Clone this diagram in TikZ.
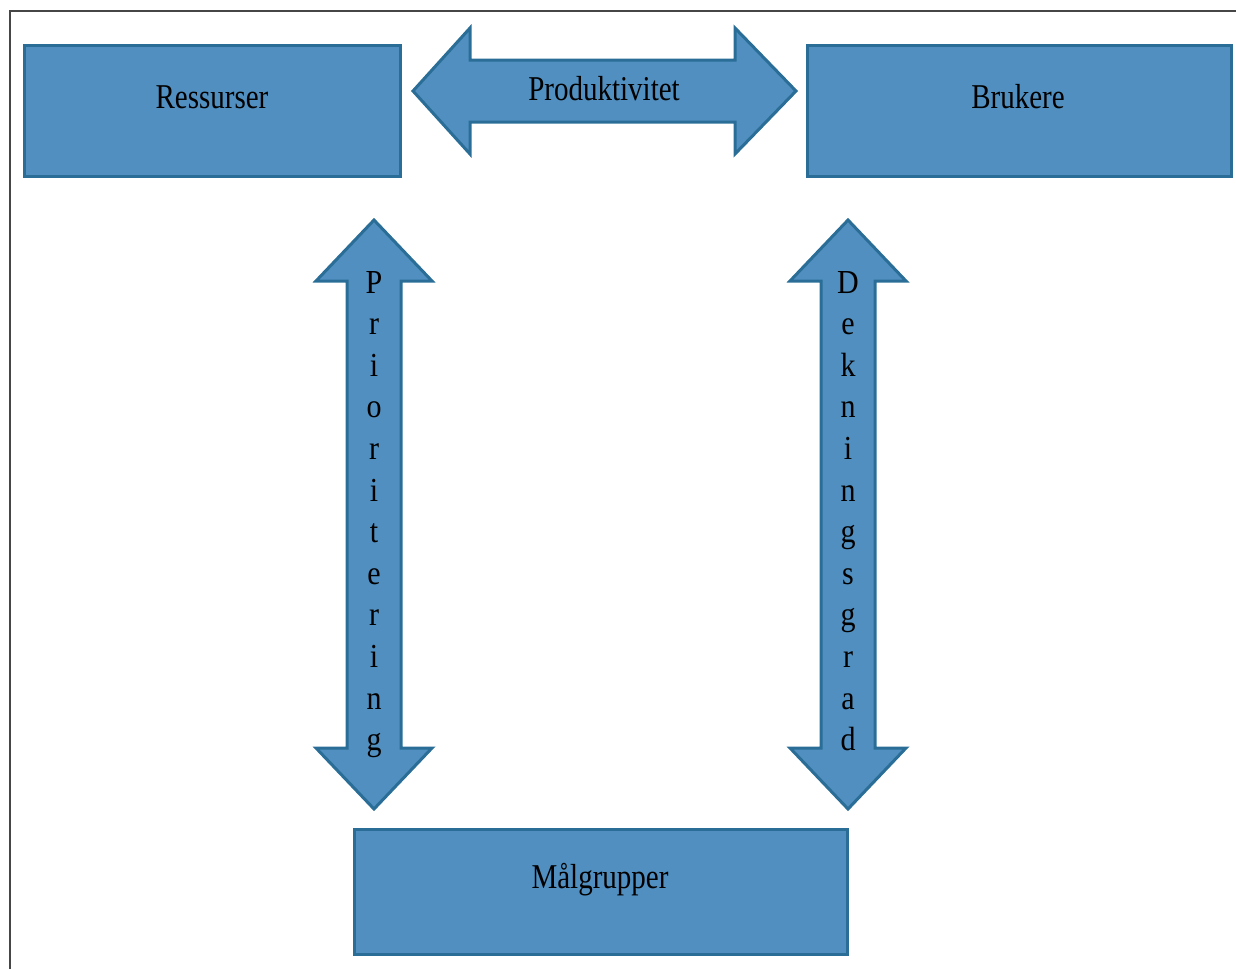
\documentclass[tikz,border=0pt]{standalone}
\usepackage{fontspec}
\setmainfont{Liberation Serif}
\definecolor{boxfill}{RGB}{80,143,192}
\definecolor{boxline}{RGB}{42,110,152}
\definecolor{framegray}{RGB}{70,70,70}
\begin{document}
\begin{tikzpicture}[x=1pt,y=-1pt,
  box/.style={draw=boxline,line width=3pt,fill=boxfill,rectangle,inner sep=0pt},
  arr/.style={draw=boxline,line width=3pt,fill=boxfill,line join=miter},
  lbl/.style={font=\fontsize{29}{34}\selectfont,anchor=base,inner sep=0pt,yscale=1.2},
  vl/.style={font=\fontsize{30}{34}\selectfont,anchor=base,inner sep=0pt,yscale=1.12}]
\useasboundingbox (0,0) rectangle (1236,969);
\draw[framegray,line width=2pt] (10,969) -- (10,11) -- (1236,11);
% boxes
\node[box,minimum width=376pt,minimum height=131pt] (res) at (212,110.5) {};
\node[box,minimum width=424pt,minimum height=131pt] (bru) at (1019,110.5) {};
\node[box,minimum width=493pt,minimum height=125pt] (mal) at (600.5,891.5) {};
\node[lbl] (tres) at (212,108) {Ressurser};
\node[lbl] (tbru) at (1018,108) {Brukere};
\node[lbl] (tmal) at (600,888) {Målgrupper};
% horizontal double arrow
\draw[arr] (413,91) -- (470,28) -- (470,60) -- (735,60) -- (735,28) -- (796,91)
  -- (735,154) -- (735,122) -- (470,122) -- (470,154) -- cycle;
\node[lbl] (tprod) at (604,100) {Produktivitet};
% left vertical double arrow
\draw[arr] (374,220) -- (432,281) -- (401,281) -- (401,748) -- (432,748) -- (374,809)
  -- (316,748) -- (347,748) -- (347,281) -- (316,281) -- cycle;
% right vertical double arrow
\draw[arr] (848,220) -- (906,281) -- (875,281) -- (875,748) -- (906,748) -- (848,809)
  -- (790,748) -- (821,748) -- (821,281) -- (790,281) -- cycle;
\foreach \c [count=\i from 0] in {P,r,i,o,r,i,t,e,r,i,n,g}
  \node[vl] (p\i) at (374,293+41.6*\i) {\c};
\foreach \c [count=\i from 0] in {D,e,k,n,i,n,g,s,g,r,a,d}
  \node[vl] (d\i) at (848,293+41.6*\i) {\c};
\end{tikzpicture}
\end{document}
